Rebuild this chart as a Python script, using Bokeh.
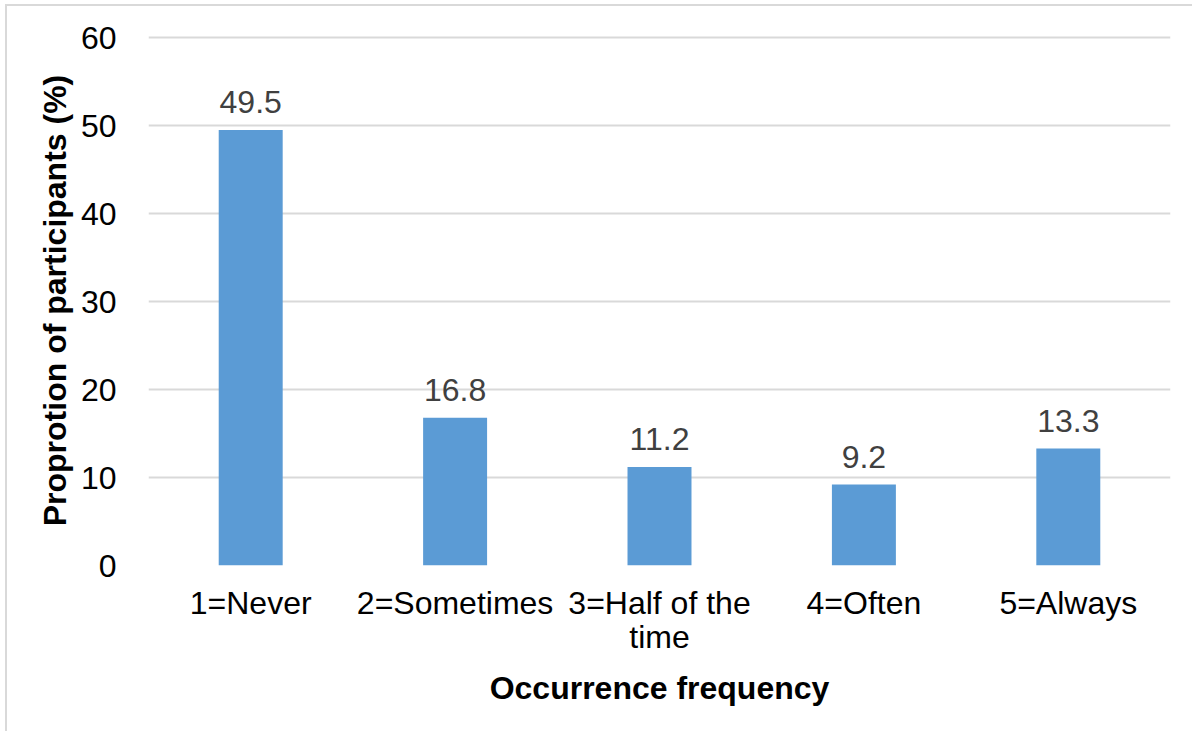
from bokeh.plotting import figure
from bokeh.models import ColumnDataSource, FactorRange, Range1d, FixedTicker, LabelSet
from bokeh.core.properties import value
from bokeh.embed import file_html
from bokeh.resources import INLINE

# Survey results: share of participants per occurrence frequency
categories = ["1=Never", "2=Sometimes", "3=Half of the\ntime", "4=Often", "5=Always"]
proportions = [49.5, 16.8, 11.2, 9.2, 13.3]
y_ticks = [0, 10, 20, 30, 40, 50, 60]

FONT = "Liberation Sans"
FONT_SIZE = "32px"
BAR_COLOR = "#5B9BD5"
GRID_COLOR = "#D9D9D9"

src = ColumnDataSource(dict(
    cat=categories,
    val=proportions,
    lbl=[f"{v:.1f}" for v in proportions],
))

p = figure(
    width=1187, height=727,
    x_range=FactorRange(*categories, range_padding=0),
    y_range=Range1d(0, 60.25),
    output_backend="svg",
    toolbar_location=None,
    min_border_left=141, min_border_right=24,
    min_border_top=29, min_border_bottom=168,
)
p.margin = (4, 0, 0, 5)
p.styles = {"border-top": "2px solid #D9D9D9", "border-left": "2px solid #D9D9D9"}
p.outline_line_color = None
p.background_fill_color = "white"
p.border_fill_color = "white"

p.vbar(x="cat", top="val", width=0.313, source=src, color=BAR_COLOR, line_color=None)

p.add_layout(LabelSet(
    x="cat", y="val", text="lbl", source=src,
    text_align="center", text_baseline="bottom", y_offset=17,
    text_font=value(FONT), text_font_size=FONT_SIZE, text_color="#404040",
))

# Grid
p.xgrid.grid_line_color = None
p.ygrid.grid_line_color = GRID_COLOR
p.ygrid.grid_line_width = 2

# Y axis
p.yaxis.ticker = FixedTicker(ticks=y_ticks)
p.yaxis.axis_line_color = None
p.yaxis.major_tick_line_color = None
p.yaxis.minor_tick_line_color = None
p.yaxis.major_label_text_font = FONT
p.yaxis.major_label_text_font_size = FONT_SIZE
p.yaxis.major_label_text_color = "black"
p.yaxis.major_label_standoff = 26
p.yaxis.axis_label = "Proprotion of participants (%)"
p.yaxis.axis_label_text_font = FONT
p.yaxis.axis_label_text_font_size = FONT_SIZE
p.yaxis.axis_label_text_font_style = "bold"
p.yaxis.axis_label_text_color = "black"
p.yaxis.axis_label_standoff = 5

# X axis
p.xaxis.axis_line_color = None
p.xaxis.major_tick_line_color = None
p.xaxis.minor_tick_line_color = None
p.xaxis.major_label_text_font = FONT
p.xaxis.major_label_text_font_size = FONT_SIZE
p.xaxis.major_label_text_line_height = 0.95
p.xaxis.major_label_text_color = "black"
p.xaxis.major_label_standoff = 13
p.xaxis.axis_label = "Occurrence frequency"
p.xaxis.axis_label_text_font = FONT
p.xaxis.axis_label_text_font_size = FONT_SIZE
p.xaxis.axis_label_text_font_style = "bold"
p.xaxis.axis_label_text_color = "black"
p.xaxis.axis_label_standoff = 12

open("out.html", "w").write(file_html(p, INLINE))
